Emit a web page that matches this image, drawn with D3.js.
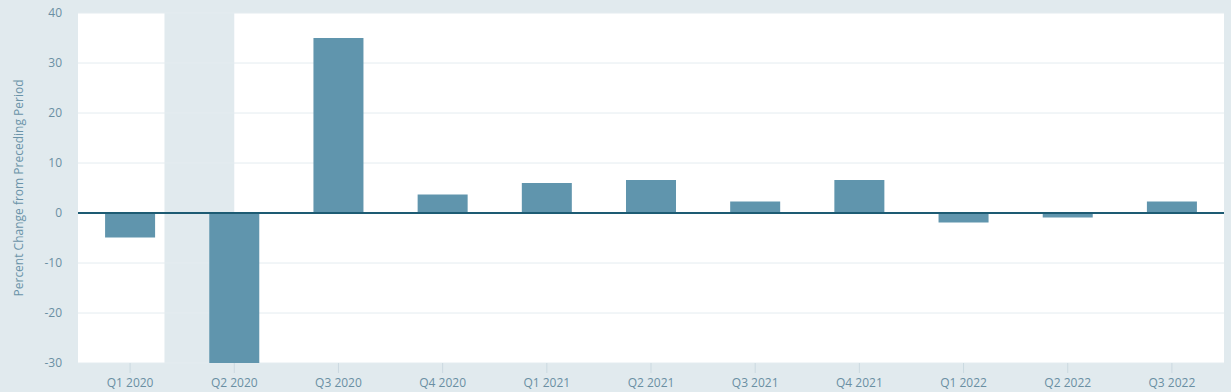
<!DOCTYPE html>
<html>
<head>
<meta charset="utf-8">
<script src="https://cdn.jsdelivr.net/npm/d3@7"></script>
<style>
  html, body { margin: 0; padding: 0; background: #e1eaee; }
  svg { display: block; font-family: "Open Sans", sans-serif; }
</style>
</head>
<body>
<svg id="chart" width="1231" height="392"></svg>
<script>
// real GDP, percent change from preceding period
const quarters = ['Q1 2020', 'Q2 2020', 'Q3 2020', 'Q4 2020', 'Q1 2021', 'Q2 2021',
  'Q3 2021', 'Q4 2021', 'Q1 2022', 'Q2 2022', 'Q3 2022'];
const gdpChange = [-4.9, -31.2, 35.0, 3.7, 6.0, 6.6, 2.3, 6.6, -1.9, -0.9, 2.3];
const yTicks = [-30, -20, -10, 0, 10, 20, 30, 40];
// shaded recession period, in quarter-index units
const recessionSpan = [0.33, 1.0];

const W = 1231, H = 392;
const margin = { top: 13, right: 7, bottom: 29, left: 78 };
const width = W - margin.left - margin.right;
const height = H - margin.top - margin.bottom;

const svg = d3.select('#chart');
const g = svg.append('g').attr('transform', `translate(${margin.left},${margin.top})`);

const x = d3.scaleBand()
  .domain(quarters)
  .range([0, width])
  .paddingInner(0.52)
  .paddingOuter(0.26);

const xIdx = d3.scaleLinear().domain([-0.5, quarters.length - 0.5]).range([0, width]);

const y = d3.scaleLinear()
  .domain([yTicks[0], yTicks[yTicks.length - 1]])
  .range([height, 0])
  .clamp(true);

// plot area
g.append('rect')
  .attr('width', width)
  .attr('height', height)
  .attr('fill', '#ffffff');

// recession shading
g.append('rect')
  .attr('x', xIdx(recessionSpan[0]))
  .attr('width', xIdx(recessionSpan[1]) - xIdx(recessionSpan[0]))
  .attr('y', -margin.top)
  .attr('height', height + margin.top)
  .attr('fill', '#e1eaee');

// gridlines
g.append('g')
  .selectAll('line')
  .data(yTicks.filter(d => d !== 0))
  .enter()
  .append('line')
  .attr('x1', 0)
  .attr('x2', width)
  .attr('y1', d => y(d))
  .attr('y2', d => y(d))
  .attr('stroke', '#e4ecf0')
  .attr('stroke-width', 1);

// bars
g.selectAll('.bar')
  .data(quarters.map((q, i) => [q, gdpChange[i]]))
  .enter()
  .append('rect')
  .attr('class', 'bar')
  .attr('x', ([q]) => x(q))
  .attr('width', x.bandwidth())
  .attr('y', ([, v]) => y(Math.max(0, v)))
  .attr('height', ([, v]) => Math.abs(y(v) - y(0)))
  .attr('fill', '#6095ad');

// zero line
g.append('line')
  .attr('x1', 0)
  .attr('x2', width)
  .attr('y1', y(0))
  .attr('y2', y(0))
  .attr('stroke', '#1d5b73')
  .attr('stroke-width', 2);

// x axis
const xAxis = g.append('g')
  .attr('transform', `translate(0,${height})`)
  .call(d3.axisBottom(x).tickSize(10).tickPadding(5));
xAxis.select('.domain').remove();
xAxis.selectAll('line').attr('stroke', '#cbd9e0');
xAxis.selectAll('text')
  .attr('fill', '#6a8fa3')
  .style('font-size', '12px')
  .style('font-family', '"Open Sans", sans-serif');

// y axis
const yAxis = g.append('g')
  .call(d3.axisLeft(y).tickValues(yTicks).tickFormat(d => String(d)).tickSize(0).tickPadding(16));
yAxis.select('.domain').remove();
yAxis.selectAll('text')
  .attr('fill', '#6a8fa3')
  .style('font-size', '12px')
  .style('font-family', '"Open Sans", sans-serif');

// y title
svg.append('text')
  .attr('transform', `translate(23,${margin.top + height / 2}) rotate(-90)`)
  .attr('text-anchor', 'middle')
  .attr('fill', '#6a93a8')
  .style('font-size', '12px')
  .text('Percent Change from Preceding Period');
</script>
</body>
</html>
